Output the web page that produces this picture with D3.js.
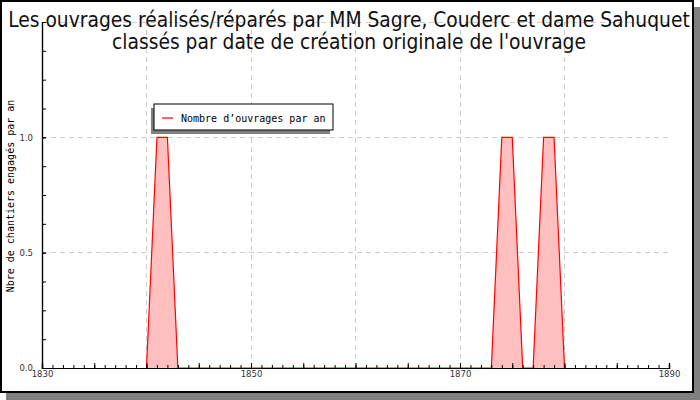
<!DOCTYPE html>
<html lang="fr">
<head>
    <meta charset="UTF-8">
    <title>Ouvrages par an</title>
    <script src="https://cdn.jsdelivr.net/npm/d3@7/dist/d3.min.js"></script>
    <style>
        body { margin: 0; background: #fff; }
        svg { display: block; }
    </style>
</head>
<body>
<script>
    // les données : années et nombre d'ouvrages
    const years = [1840, 1841, 1842, 1843, 1873, 1874, 1875, 1876, 1877, 1878, 1879, 1880];
    const counts = [0, 1, 1, 0, 0, 1, 1, 0, 0, 1, 1, 0];
    const xLabels = [1830, 1850, 1870, 1890];
    const yLabels = [0, 0.5, 1.0];
    const titleLines = [
        'Les ouvrages réalisés/réparés par MM Sagre, Couderc et dame Sahuquet',
        'classés par date de création originale de l\'ouvrage'
    ];
    const legendText = 'Nombre d’ouvrages par an';
    const yTitle = 'Nbre de chantiers engagés par an';

    const width = 700;
    const height = 400;
    const padding = { top: 22, right: 31, bottom: 32, left: 42 };

    const svg = d3.select('body')
        .append('svg')
        .attr('width', width)
        .attr('height', height);

    // cadre avec ombre
    svg.append('rect')
        .attr('x', 6).attr('y', 7)
        .attr('width', 694).attr('height', 393)
        .attr('fill', '#808080');
    svg.append('rect')
        .attr('x', 1).attr('y', 1)
        .attr('width', 692).attr('height', 391)
        .attr('fill', '#fff')
        .attr('stroke', '#000')
        .attr('stroke-width', 2);

    // échelles
    const xScale = d3.scaleLinear()
        .domain([1830, 1890])
        .range([padding.left, width - padding.right]);
    const yScale = d3.scaleLinear()
        .domain([0, 1.5])
        .range([height - padding.bottom, padding.top]);

    // grille en pointillés
    const grid = svg.append('g')
        .attr('stroke', '#cccccc')
        .attr('stroke-dasharray', '5,4')
        .attr('shape-rendering', 'crispEdges');
    grid.selectAll('.vgrid')
        .data(d3.range(1840, 1890, 10))
        .enter()
        .append('line')
        .attr('class', 'vgrid')
        .attr('x1', d => xScale(d)).attr('x2', d => xScale(d))
        .attr('y1', yScale(0)).attr('y2', yScale(1.5));
    grid.selectAll('.hgrid')
        .data([0.5, 1.0, 1.5])
        .enter()
        .append('line')
        .attr('class', 'hgrid')
        .attr('x1', xScale(1830)).attr('x2', xScale(1890))
        .attr('y1', d => yScale(d)).attr('y2', d => yScale(d));

    // aire + courbe
    const pts = years.map((y, i) => [y, counts[i]]);
    svg.append('path')
        .datum(pts)
        .attr('fill', '#ffbfbf')
        .attr('d', d3.area()
            .x(d => xScale(d[0]))
            .y0(yScale(0))
            .y1(d => yScale(d[1])));
    svg.append('path')
        .datum(pts)
        .attr('fill', 'none')
        .attr('stroke', '#ff0000')
        .attr('stroke-width', 1.2)
        .attr('d', d3.line()
            .x(d => xScale(d[0]))
            .y(d => yScale(d[1])));

    // axe x : petites graduations, graduations de 5 ans, libellés
    const xg = svg.append('g')
        .attr('transform', `translate(0, ${yScale(0)})`);
    xg.append('g')
        .call(d3.axisBottom(xScale).tickValues(d3.range(1830, 1891, 1)).tickSize(-3).tickFormat(''));
    xg.append('g')
        .call(d3.axisBottom(xScale).tickValues(d3.range(1830, 1891, 5)).tickSize(-5).tickFormat(''));
    xg.append('g')
        .attr('class', 'xlab')
        .call(d3.axisBottom(xScale).tickValues(xLabels).tickSize(-5).tickPadding(3).tickFormat(d3.format('d')));

    // axe y
    const yg = svg.append('g')
        .attr('transform', `translate(${xScale(1830)}, 0)`);
    yg.append('g')
        .call(d3.axisLeft(yScale).tickValues(d3.range(0, 1.51, 0.125)).tickSize(-4).tickFormat(''));
    yg.append('g')
        .attr('class', 'ylab')
        .call(d3.axisLeft(yScale).tickValues(yLabels).tickSize(-4).tickPadding(9).tickFormat(d3.format('.1f')));

    svg.selectAll('.domain').attr('stroke', '#000').attr('stroke-width', 1.2);
    svg.selectAll('.tick line').attr('stroke', '#000');
    svg.selectAll('.xlab text, .ylab text')
        .attr('font-family', 'DejaVu Sans')
        .attr('font-size', 8.5)
        .attr('fill', '#333');

    // titre, taille ajustée pour tenir dans le cadre
    const titles = svg.append('g')
        .selectAll('text')
        .data(titleLines)
        .enter()
        .append('text')
        .attr('x', 349)
        .attr('y', (d, i) => 27 + i * 22)
        .attr('text-anchor', 'middle')
        .attr('font-family', 'DejaVu Sans Condensed, DejaVu Sans')
        .attr('font-stretch', 'condensed')
        .attr('font-size', 20)
        .attr('fill', '#111')
        .text(d => d);
    const w0 = titles.node().getComputedTextLength();
    const fs = Math.min(21, 20 * 682 / w0);
    titles.attr('font-size', fs);

    // titre axe y
    svg.append('text')
        .attr('transform', 'translate(14, 196) rotate(-90)')
        .attr('text-anchor', 'middle')
        .attr('font-family', 'DejaVu Sans Mono')
        .attr('font-size', 10)
        .text(yTitle);

    // légende
    const lg = svg.append('g').attr('transform', 'translate(154, 104)');
    lg.append('rect')
        .attr('x', -3).attr('y', 4)
        .attr('width', 179).attr('height', 26)
        .attr('fill', '#808080');
    lg.append('rect')
        .attr('width', 179).attr('height', 26)
        .attr('fill', '#fff')
        .attr('stroke', '#000')
        .attr('stroke-width', 1);
    lg.append('line')
        .attr('x1', 8).attr('x2', 19)
        .attr('y1', 14).attr('y2', 14)
        .attr('stroke', '#ff0000')
        .attr('stroke-width', 1.2);
    lg.append('text')
        .attr('x', 27).attr('y', 17.5)
        .attr('font-family', 'DejaVu Sans Mono')
        .attr('font-size', 10)
        .text(legendText);
</script>
</body>
</html>
